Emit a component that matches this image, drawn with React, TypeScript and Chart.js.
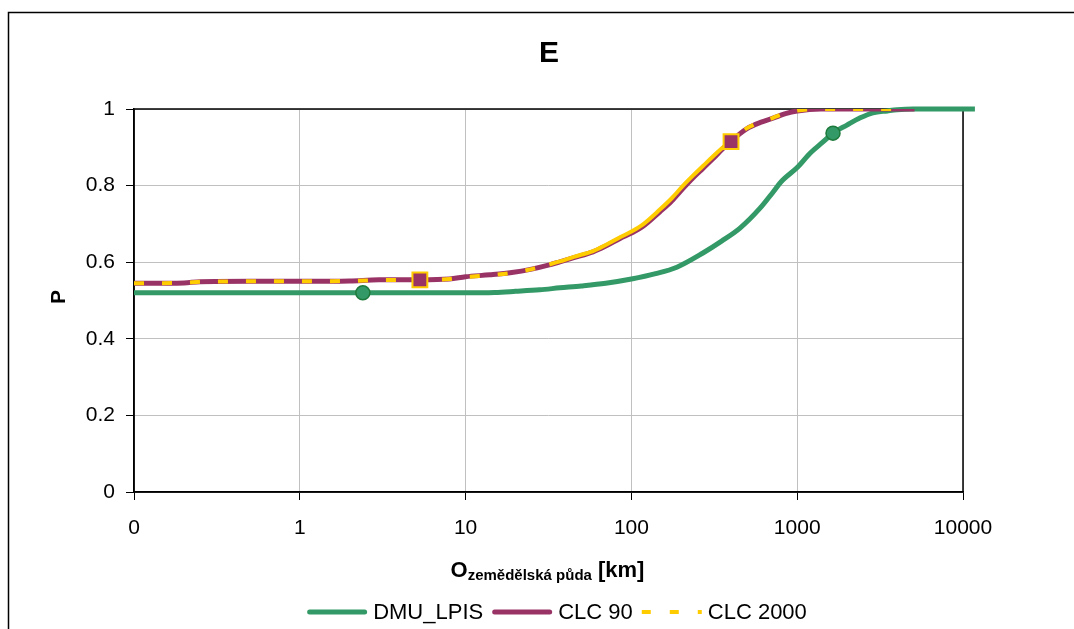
import React, { useEffect, useRef } from 'react';
import { Chart, registerables } from 'chart.js';

Chart.register(...registerables);

const chartTitle = 'E';
const yAxisTitle = 'P';
const xTitleMain = 'O';
const xTitleSub = 'zemědělská půda';
const xTitleUnit = '[km]';

const xTickValues = [0.1, 1, 10, 100, 1000, 10000];
const xTickLabels = ['0', '1', '10', '100', '1000', '10000'];
const yTickValues = [0, 0.2, 0.4, 0.6, 0.8, 1];
const yTickLabels = ['0', '0.2', '0.4', '0.6', '0.8', '1'];

const seriesNames = ['DMU_LPIS', 'CLC 90', 'CLC 2000'];
const seriesColors = ['#339966', '#993366', '#FFCC00'];

const dmuX = [0.1, 1, 2.4, 10, 15, 20, 28, 37, 50, 70, 100, 140, 188, 270, 350, 452, 597, 718, 800, 1011, 1200, 1431, 1644, 1995, 2400, 2865, 3500, 4000, 5000, 11800];
const dmuP = [0.52, 0.52, 0.52, 0.52, 0.521, 0.524, 0.528, 0.533, 0.538, 0.545, 0.556, 0.57, 0.587, 0.624, 0.655, 0.689, 0.741, 0.784, 0.81, 0.849, 0.885, 0.914, 0.937, 0.958, 0.977, 0.99, 0.995, 0.998, 1.0, 1.0];

const clc90X = [0.1, 0.2, 0.25, 0.5, 1, 2, 3, 5.3, 8, 10, 14, 19, 25, 32, 37, 45, 58.7, 70, 85.4, 100, 117, 149, 175, 205, 235, 270, 310, 357, 399, 450, 498, 600, 714, 850, 1000, 1390, 5100];
const clc90P = [0.545, 0.546, 0.549, 0.55, 0.55, 0.551, 0.554, 0.554, 0.556, 0.562, 0.567, 0.573, 0.582, 0.593, 0.601, 0.612, 0.627, 0.642, 0.662, 0.676, 0.693, 0.732, 0.76, 0.793, 0.82, 0.845, 0.87, 0.897, 0.915, 0.935, 0.949, 0.965, 0.976, 0.988, 0.995, 1.0, 1.0];

const clc2000X = [0.1, 0.2, 0.25, 0.5, 1, 2, 3, 5.3, 8, 10, 14, 19, 25, 32, 37, 45, 58.7, 70, 85.4, 100, 117, 149, 175, 205, 235, 270, 310, 357, 399, 450, 498, 600, 714, 850, 1000, 1390, 4600];
const clc2000P = [0.545, 0.546, 0.549, 0.55, 0.55, 0.551, 0.553, 0.554, 0.556, 0.561, 0.566, 0.572, 0.582, 0.594, 0.602, 0.614, 0.629, 0.645, 0.665, 0.68, 0.698, 0.738, 0.767, 0.8, 0.826, 0.851, 0.876, 0.9, 0.917, 0.936, 0.95, 0.966, 0.977, 0.989, 0.996, 1.0, 1.0];

const dmuMarkerX = [2.4, 1644];
const clcMarkerX = [5.3, 399];

const FONT = '"Liberation Sans", Arial, Helvetica, sans-serif';

const toPoints = (xs: number[], ys: number[]) => xs.map((x, i) => ({ x, y: ys[i] }));

const decorPlugin = {
  id: 'decor',
  beforeDatasetsDraw(chart: any) {
    const { ctx, chartArea: a } = chart;
    ctx.save();
    ctx.strokeStyle = '#000';
    ctx.lineWidth = 1.5;
    ctx.strokeRect(a.left, a.top, a.right - a.left, a.bottom - a.top);
    ctx.restore();
  },
  afterDraw(chart: any) {
    const { ctx } = chart;
    ctx.save();
    // outer frame
    ctx.strokeStyle = '#000';
    ctx.lineWidth = 1.5;
    ctx.strokeRect(8.5, 12.5, 1300, 800);

    ctx.fillStyle = '#000';
    // chart title
    ctx.font = `bold 30px ${FONT}`;
    ctx.textAlign = 'center';
    ctx.textBaseline = 'alphabetic';
    ctx.fillText(chartTitle, 549, 61.5);

    // y axis title
    ctx.save();
    ctx.translate(65, 297);
    ctx.rotate(-Math.PI / 2);
    ctx.font = `bold 21px ${FONT}`;
    ctx.textAlign = 'center';
    ctx.fillText(yAxisTitle, 0, 0);
    ctx.restore();

    // x axis title with subscript
    const fBig = `bold 22px ${FONT}`;
    const fSub = `bold 15px ${FONT}`;
    ctx.textAlign = 'left';
    ctx.font = fBig;
    const w1 = ctx.measureText(xTitleMain).width;
    const w3 = ctx.measureText(' ' + xTitleUnit).width;
    ctx.font = fSub;
    const w2 = ctx.measureText(xTitleSub).width;
    let x = 547.5 - (w1 + w2 + w3) / 2;
    const base = 577;
    ctx.font = fBig;
    ctx.fillText(xTitleMain, x, base);
    x += w1;
    ctx.font = fSub;
    ctx.fillText(xTitleSub, x, base + 3);
    x += w2;
    ctx.font = fBig;
    ctx.fillText(' ' + xTitleUnit, x, base);

    // legend
    const lineW = 60;
    const gapText = 6;
    const gapItem = 9;
    const ly = 612;
    ctx.font = `22px ${FONT}`;
    const widths = seriesNames.map((n) => ctx.measureText(n).width);
    const total = widths.reduce((s, w) => s + lineW + gapText + w, 0) + gapItem * (seriesNames.length - 1);
    let lx = 557 - total / 2;
    ctx.textBaseline = 'middle';
    seriesNames.forEach((name, i) => {
      ctx.save();
      ctx.strokeStyle = seriesColors[i];
      ctx.lineWidth = i === 2 ? 4 : 5;
      ctx.lineCap = i === 2 ? 'butt' : 'round';
      if (i === 2) ctx.setLineDash([9, 19]);
      ctx.beginPath();
      ctx.moveTo(lx + (i === 2 ? 0 : 2.5), ly);
      ctx.lineTo(lx + lineW - (i === 2 ? 0 : 2.5), ly);
      ctx.stroke();
      ctx.restore();
      lx += lineW + gapText;
      ctx.fillStyle = '#000';
      ctx.fillText(name, lx, ly + 1);
      lx += widths[i] + gapItem;
    });
    ctx.restore();
  },
};

export default function App() {
  const ref = useRef<HTMLCanvasElement | null>(null);

  useEffect(() => {
    if (!ref.current) return;
    const chart = new Chart(ref.current, {
      type: 'line',
      data: {
        datasets: [
          {
            label: seriesNames[0],
            data: toPoints(dmuX, dmuP),
            borderColor: seriesColors[0],
            backgroundColor: seriesColors[0],
            borderWidth: 5,
            cubicInterpolationMode: 'monotone',
            clip: false,
            pointRadius: (c: any) => (dmuMarkerX.includes(c.raw?.x) ? 7 : 0),
            pointBackgroundColor: '#339966',
            pointBorderColor: '#1e7a3c',
            pointBorderWidth: 1.5,
            pointStyle: 'circle',
            order: 3,
          },
          {
            label: seriesNames[1],
            data: toPoints(clc90X, clc90P),
            borderColor: seriesColors[1],
            backgroundColor: seriesColors[1],
            borderWidth: 5,
            cubicInterpolationMode: 'monotone',
            pointRadius: 0,
            order: 2,
          },
          {
            label: seriesNames[2],
            data: toPoints(clc2000X, clc2000P),
            borderColor: seriesColors[2],
            backgroundColor: seriesColors[2],
            borderWidth: 4,
            borderDash: [10, 18],
            borderCapStyle: 'butt',
            cubicInterpolationMode: 'monotone',
            pointRadius: 0,
            segment: {
              borderDash: (c: any) => (c.p0.parsed.x >= 30 && c.p1.parsed.x <= 380 ? [] : [10, 18]),
            },
            order: 1,
          },
          {
            label: 'markers',
            data: toPoints(clc90X, clc90P).filter((p) => clcMarkerX.includes(p.x)),
            showLine: false,
            pointStyle: 'rect',
            pointRadius: 10.5,
            pointBackgroundColor: '#993366',
            pointBorderColor: '#FFCC00',
            pointBorderWidth: 2,
            order: 0,
          },
        ],
      },
      options: {
        animation: false,
        responsive: false,
        events: [],
        layout: { padding: { left: 0, top: 109, right: 111, bottom: 0 } },
        plugins: {
          legend: { display: false },
          title: { display: false },
          tooltip: { enabled: false },
        },
        scales: {
          x: {
            type: 'logarithmic',
            min: 0.1,
            max: 10000,
            afterBuildTicks: (s: any) => {
              s.ticks = xTickValues.map((v) => ({ value: v }));
            },
            afterFit: (s: any) => {
              s.height = 137;
            },
            ticks: {
              callback: (_v: any, i: number) => xTickLabels[i],
              color: '#000',
              font: { family: FONT, size: 21 },
              padding: 16,
              maxRotation: 0,
              autoSkip: false,
            },
            grid: { color: '#c0c0c0', lineWidth: 1, tickColor: '#000', tickLength: 8 },
            border: { color: '#000', width: 1.5 },
          },
          y: {
            type: 'linear',
            min: 0,
            max: 1,
            afterBuildTicks: (s: any) => {
              s.ticks = yTickValues.map((v) => ({ value: v }));
            },
            afterFit: (s: any) => {
              s.width = 134;
            },
            ticks: {
              callback: (_v: any, i: number) => yTickLabels[i],
              color: '#000',
              font: { family: FONT, size: 21 },
              padding: 11,
            },
            grid: { color: '#c0c0c0', lineWidth: 1, tickColor: '#000', tickLength: 8 },
            border: { color: '#000', width: 1.5 },
          },
        },
      },
      plugins: [decorPlugin],
    } as any);
    return () => chart.destroy();
  }, []);

  return (
    <canvas
      ref={ref}
      width={1074}
      height={629}
      style={{ position: 'fixed', left: 0, top: 0, width: '1074px', height: '629px', display: 'block', background: '#fff' }}
    />
  );
}
